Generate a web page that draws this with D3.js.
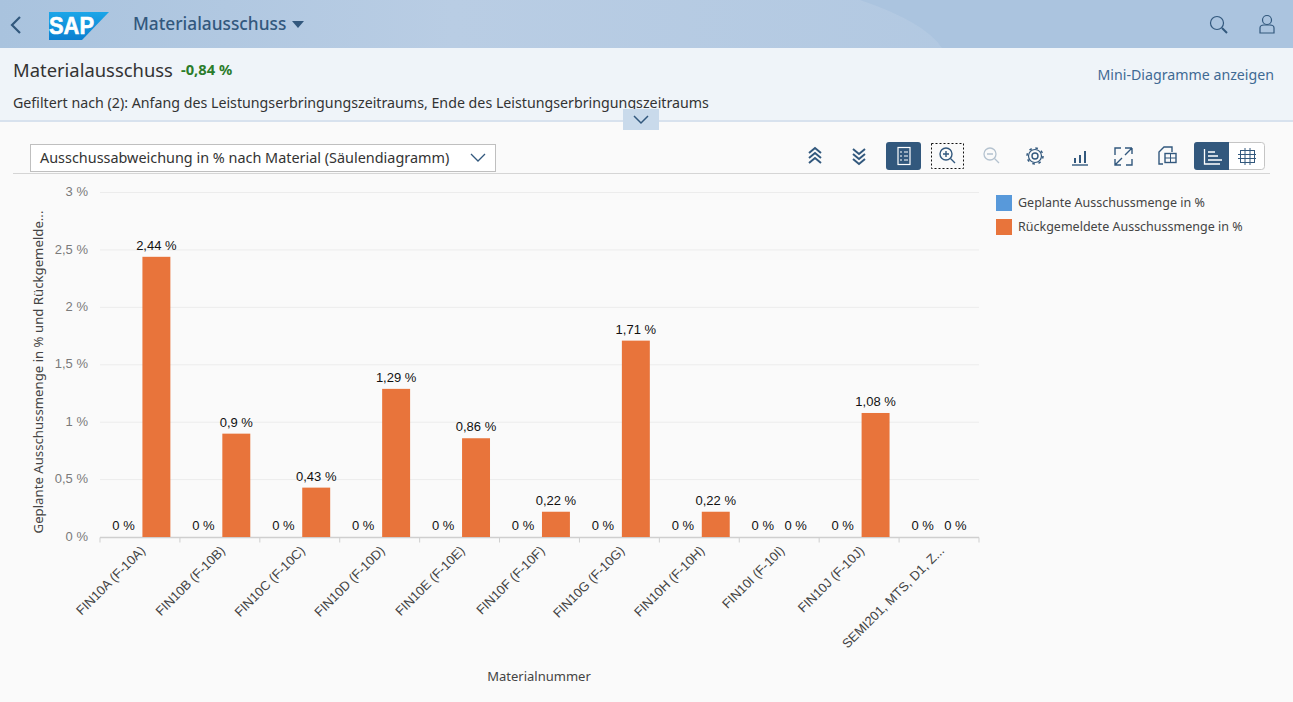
<!DOCTYPE html>
<html lang="de">
<head>
<meta charset="UTF-8">
<title>Materialausschuss</title>
<script src="https://d3js.org/d3.v7.min.js"></script>
<style>
  html, body { margin: 0; padding: 0; background: #fafafa; overflow: hidden; }
  svg { display: block; }
  text { font-family: "Noto Sans", sans-serif; }
  .chart text { font-family: "Liberation Sans", Arial, sans-serif; }
</style>
</head>
<body>
<svg id="page" width="1293" height="702"></svg>
<script>
// chart data
const materials = ["FIN10A (F-10A)", "FIN10B (F-10B)", "FIN10C (F-10C)", "FIN10D (F-10D)", "FIN10E (F-10E)", "FIN10F (F-10F)", "FIN10G (F-10G)", "FIN10H (F-10H)", "FIN10I (F-10I)", "FIN10J (F-10J)", "SEMI201, MTS, D1, Z..."];
const seriesNames = ["Geplante Ausschussmenge in %", "Rückgemeldete Ausschussmenge in %"];
const plannedValues = [0, 0, 0, 0, 0, 0, 0, 0, 0, 0, 0];
const reportedValues = [2.44, 0.9, 0.43, 1.29, 0.86, 0.22, 1.71, 0.22, 0, 1.08, 0];
const reportedLabels = ["2,44 %", "0,9 %", "0,43 %", "1,29 %", "0,86 %", "0,22 %", "1,71 %", "0,22 %", "0 %", "1,08 %", "0 %"];
const yTicks = [0, 0.5, 1, 1.5, 2, 2.5, 3];
const yTickLabels = ["0 %", "0,5 %", "1 %", "1,5 %", "2 %", "2,5 %", "3 %"];
const seriesColors = ["#5899da", "#e8743b"];

const svg = d3.select("#page");
const blue = "#32587d";

// shell header
const defs = svg.append("defs");
const grad = defs.append("linearGradient").attr("id", "shellGrad");
grad.append("stop").attr("offset", "0").attr("stop-color", "#a9c3de");
grad.append("stop").attr("offset", "0.35").attr("stop-color", "#b9cde4");
grad.append("stop").attr("offset", "1").attr("stop-color", "#aec6e0");
svg.append("rect").attr("width", 1293).attr("height", 48).attr("fill", "url(#shellGrad)");
svg.append("path").attr("d", "M860 0 Q925 22 942 48 L1293 48 L1293 0 Z").attr("fill", "#abc4df");

svg.append("path").attr("d", "M20 17 L12 25 L20 33").attr("fill", "none").attr("stroke", blue).attr("stroke-width", 2.2);

// SAP logo
const logoGrad = defs.append("linearGradient").attr("id", "logoGrad").attr("x1", 0).attr("x2", 0).attr("y1", 0).attr("y2", 1);
logoGrad.append("stop").attr("offset", "0").attr("stop-color", "#1ca6e8");
logoGrad.append("stop").attr("offset", "1").attr("stop-color", "#0a7fd0");
svg.append("path").attr("d", "M49 12 L109 12 L82 40 L49 40 Z").attr("fill", "url(#logoGrad)");
svg.append("text").attr("x", 49).attr("y", 34).attr("font-size", 23).attr("font-weight", 700)
  .attr("fill", "#fff").attr("stroke", "#fff").attr("stroke-width", 0.6)
  .attr("textLength", 45).attr("lengthAdjust", "spacingAndGlyphs")
  .style("font-family", "'Liberation Sans'").text("SAP");

svg.append("text").attr("x", 133).attr("y", 30).attr("font-size", 17.3).attr("font-weight", 500).attr("fill", blue).text("Materialausschuss");
svg.append("path").attr("d", "M292 21 L304 21 L298 28 Z").attr("fill", blue);

// search + user icons
const search = svg.append("g").attr("fill", "none").attr("stroke", blue).attr("stroke-width", 1.2);
search.append("circle").attr("cx", 1217).attr("cy", 23).attr("r", 6.5);
search.append("path").attr("d", "M1222 28 L1227 33").attr("stroke-width", 2);
const user = svg.append("g").attr("fill", "none").attr("stroke", blue).attr("stroke-width", 1.2);
user.append("circle").attr("cx", 1267).attr("cy", 20).attr("r", 4.5);
user.append("path").attr("d", "M1260 33 L1260 28 Q1260 25 1264 25 L1270 25 Q1274 25 1274 28 L1274 33 Z");

// title band
svg.append("rect").attr("y", 48).attr("width", 1293).attr("height", 72).attr("fill", "#eff4f9");
svg.append("rect").attr("y", 120).attr("width", 1293).attr("height", 2).attr("fill", "#d8e2ee");
svg.append("text").attr("x", 13).attr("y", 77).attr("font-size", 18.4).attr("fill", "#333").text("Materialausschuss");
svg.append("text").attr("x", 181).attr("y", 75).attr("font-size", 14.7).attr("font-weight", 700).attr("fill", "#2b7c2b").text("-0,84 %");
svg.append("text").attr("x", 13).attr("y", 108).attr("font-size", 14.23).attr("fill", "#333")
  .text("Gefiltert nach (2): Anfang des Leistungserbringungszeitraums, Ende des Leistungserbringungszeitraums");
svg.append("text").attr("x", 1274).attr("y", 80).attr("text-anchor", "end").attr("font-size", 14.2).attr("fill", "#3f6a94").text("Mini-Diagramme anzeigen");

// collapse handle
svg.append("rect").attr("x", 623).attr("y", 109).attr("width", 36).attr("height", 21).attr("fill", "#c9daeb");
svg.append("path").attr("d", "M634 116 L641 123 L648 116").attr("fill", "none").attr("stroke", blue).attr("stroke-width", 1.5);

// view selector
svg.append("rect").attr("x", 30.5).attr("y", 144.5).attr("width", 465).attr("height", 27).attr("fill", "#fff").attr("stroke", "#bfbfbf");
svg.append("text").attr("x", 40).attr("y", 163).attr("font-size", 14.42).attr("fill", "#333").text("Ausschussabweichung in % nach Material (Säulendiagramm)");
svg.append("path").attr("d", "M471 154 L478 161 L485 154").attr("fill", "none").attr("stroke", blue).attr("stroke-width", 1.3);
svg.append("line").attr("x1", 13).attr("x2", 1270).attr("y1", 173.5).attr("y2", 173.5).attr("stroke", "#d5d5d5");

// toolbar icons
const tools = svg.append("g").attr("fill", "none").attr("stroke", blue).attr("stroke-width", 1.4);
tools.append("path").attr("stroke-width", 2).attr("d", "M809 153 L815 148 L821 153 M809 158 L815 153 L821 158 M809 163 L815 158 L821 163");
tools.append("path").attr("stroke-width", 2).attr("d", "M853 149 L859 154 L865 149 M853 154 L859 159 L865 154 M853 159 L859 164 L865 159");
svg.append("rect").attr("x", 886).attr("y", 142).attr("width", 35).attr("height", 28).attr("rx", 3).attr("fill", blue);
const listIcon = svg.append("g").attr("fill", "none").attr("stroke", "#fff").attr("stroke-width", 1.2);
listIcon.append("rect").attr("x", 898).attr("y", 147.5).attr("width", 12).attr("height", 17);
listIcon.append("path").attr("d", "M900 152 h2 M904 152 h4 M900 156 h2 M904 156 h4 M900 160 h2 M904 160 h4");
svg.append("rect").attr("x", 931.5).attr("y", 143.5).attr("width", 32).attr("height", 25).attr("fill", "none").attr("stroke", "#111").attr("stroke-dasharray", "2 2");
tools.append("circle").attr("cx", 946).attr("cy", 154).attr("r", 6);
tools.append("path").attr("d", "M943 154 h6 M946 151 v6 M950.5 158.5 L955 163");
const zoomOut = svg.append("g").attr("fill", "none").attr("stroke", "#b4c2cf").attr("stroke-width", 1.3);
zoomOut.append("circle").attr("cx", 990).attr("cy", 154).attr("r", 6);
zoomOut.append("path").attr("d", "M987 154 h6 M994.5 158.5 L999 163");
// settings cog
tools.append("circle").attr("cx", 1035).attr("cy", 156).attr("r", 3);
tools.append("circle").attr("cx", 1035).attr("cy", 156).attr("r", 6.5).attr("stroke-width", 1.2);
tools.append("circle").attr("cx", 1035).attr("cy", 156).attr("r", 8).attr("stroke-dasharray", "2.6 3.7").attr("stroke-width", 1.5);
// chart type
tools.append("path").attr("stroke-width", 2).attr("d", "M1075 163 v-5 M1080 163 v-8 M1085 163 v-12");
tools.append("path").attr("d", "M1072 165 h16");
// fullscreen
tools.append("path").attr("d", "M1115 159 v6 h6 M1115 165 L1122 158 M1125 148 L1132 148 M1132 148 L1125 155 M1132 148 v6 M1115 155 v-7 h6 M1132 159 v6 h-6");
// export
tools.append("path").attr("d", "M1163 164 h-4 v-12 l5 -5 h8 v5");
tools.append("rect").attr("x", 1165).attr("y", 153.5).attr("width", 11).attr("height", 9);
tools.append("path").attr("d", "M1165 158 h11 M1170.5 153.5 v9").attr("stroke-width", 1);

// chart / table toggle
svg.append("rect").attr("x", 1194.5).attr("y", 142.5).attr("width", 70).attr("height", 27).attr("rx", 3).attr("fill", "#fff").attr("stroke", "#c5c5c5");
svg.append("path").attr("d", "M1197 142 H1229 V170 H1197 Q1194 170 1194 167 V145 Q1194 142 1197 142 Z").attr("fill", blue);
svg.append("path").attr("d", "M1204.5 149 V164 H1220 M1208 152 H1215 M1208 156 H1218 M1208 160 H1222").attr("fill", "none").attr("stroke", "#fff").attr("stroke-width", 1.3);
const grid = svg.append("g").attr("fill", "none").attr("stroke", blue).attr("stroke-width", 1);
grid.append("rect").attr("x", 1240.5).attr("y", 150.5).attr("width", 14).attr("height", 12);
grid.append("path").attr("d", "M1238 154.5 H1256 M1238 158.5 H1256 M1245 148 V165 M1250 148 V165");

// chart
const margin = { left: 100, right: 979, top: 192.5, bottom: 537 };
const chart = svg.append("g").attr("class", "chart");

const x0 = d3.scaleBand().domain(materials).range([margin.left, margin.right]);
const x1 = d3.scaleBand().domain(seriesNames).range([0, x0.bandwidth()]).paddingInner(0.15).paddingOuter(0.29);
const y = d3.scaleLinear().domain([0, 3]).range([margin.bottom, margin.top]);

chart.append("g").selectAll("line").data(yTicks.slice(1)).join("line")
  .attr("x1", margin.left).attr("x2", margin.right)
  .attr("y1", d => y(d)).attr("y2", d => y(d))
  .attr("stroke", "#ececec");

const yAxis = chart.append("g").attr("transform", `translate(${margin.left},-1)`)
  .call(d3.axisLeft(y).tickValues(yTicks).tickFormat((d, i) => yTickLabels[i]).tickSize(0).tickPadding(12));
yAxis.select(".domain").remove();
yAxis.selectAll("text").attr("font-size", 13).attr("fill", "#7a7a7a");

const xAxis = chart.append("g").attr("transform", `translate(0,${margin.bottom + 0.5})`);
xAxis.append("line").attr("x1", margin.left).attr("x2", margin.right).attr("stroke", "#cfcfcf").attr("stroke-width", 1.5);
xAxis.selectAll("line.tick").data(d3.range(materials.length + 1)).join("line").attr("class", "tick")
  .attr("x1", i => margin.left + i * x0.step()).attr("x2", i => margin.left + i * x0.step())
  .attr("y1", 0).attr("y2", 5).attr("stroke", "#cfcfcf");
xAxis.selectAll("text").data(materials).join("text")
  .attr("transform", d => `translate(${x0(d) + x0.bandwidth() / 2 + 6},14) rotate(-45)`)
  .attr("text-anchor", "end").attr("font-size", 13).attr("fill", "#444").text(d => d);

seriesNames.forEach((name, s) => {
  const values = s === 0 ? plannedValues : reportedValues;
  const labels = s === 0 ? plannedValues.map(() => "0 %") : reportedLabels;
  const g = chart.append("g");
  g.selectAll("rect").data(materials).join("rect")
    .attr("x", d => x0(d) + x1(name))
    .attr("width", x1.bandwidth())
    .attr("y", (d, i) => y(values[i]))
    .attr("height", (d, i) => y(0) - y(values[i]))
    .attr("fill", seriesColors[s]);
  g.selectAll("text").data(materials).join("text")
    .attr("x", d => x0(d) + x1(name) + x1.bandwidth() / 2)
    .attr("y", (d, i) => y(values[i]) - 7)
    .attr("text-anchor", "middle").attr("font-size", 13).attr("fill", "#111")
    .text((d, i) => labels[i]);
});

chart.append("text").attr("transform", "translate(43,372) rotate(-90)").attr("text-anchor", "middle")
  .attr("font-size", 13.2).attr("fill", "#444").style("font-family", "'Noto Sans'")
  .text("Geplante Ausschussmenge in % und Rückgemelde...");
chart.append("text").attr("x", 539).attr("y", 681).attr("text-anchor", "middle")
  .attr("font-size", 13).attr("fill", "#444").style("font-family", "'Noto Sans'").text("Materialnummer");

// legend
const legend = svg.append("g").selectAll("g").data(seriesNames).join("g")
  .attr("transform", (d, i) => `translate(996,${195 + i * 24})`);
legend.append("rect").attr("width", 16).attr("height", 16).attr("fill", (d, i) => seriesColors[i]);
legend.append("text").attr("x", 22).attr("y", 12).attr("font-size", 12.5).attr("fill", "#444").text(d => d);
</script>
</body>
</html>
